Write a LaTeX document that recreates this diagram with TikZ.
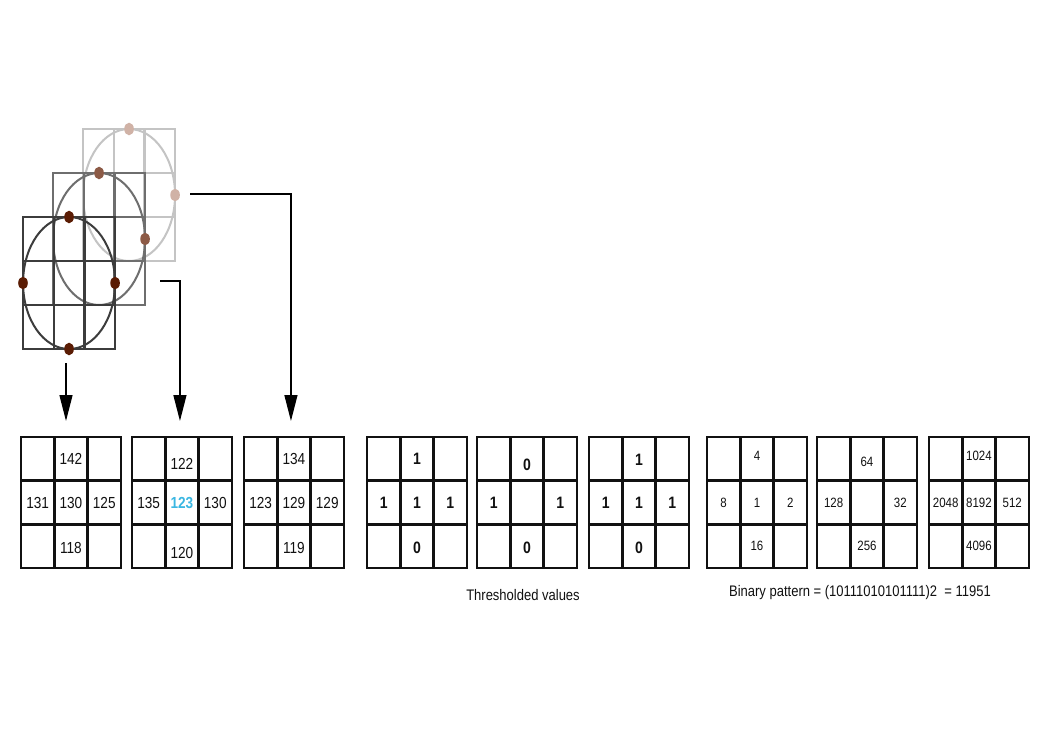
\documentclass[tikz,border=0pt]{standalone}
\usepackage{fontspec}
\setmainfont{Liberation Sans}[FakeStretch=0.85]
\usetikzlibrary{arrows.meta,positioning}
\definecolor{gridInk}{HTML}{111111}
\definecolor{winDark}{HTML}{3C3C3C}
\definecolor{winMid}{HTML}{6E6E6E}
\definecolor{winLight}{HTML}{C4C4C4}
\definecolor{dotDark}{HTML}{5A1C04}
\definecolor{dotMid}{HTML}{8C5A46}
\definecolor{dotLight}{HTML}{D0B2A6}
\definecolor{centerCyan}{HTML}{3BB7E2}

\begin{document}
\begin{tikzpicture}[x=1pt,y=-1pt,text=gridInk,
  font=\fontsize{16}{18}\selectfont,
  cell/.style={draw=gridInk,line width=2.7pt,minimum width=33.3pt,minimum height=43.7pt,inner sep=0pt,outer sep=0pt},
  wincell/.style={line width=2.2pt,minimum width=30.7pt,minimum height=44pt,inner sep=0pt,outer sep=0pt},
  pixel/.style={inner sep=0pt},
  bit/.style={inner sep=0pt,font=\bfseries\fontsize{16.5}{18}\selectfont},
  weight/.style={inner sep=0pt,font=\fontsize{13.5}{15}\selectfont},
  caption/.style={inner sep=0pt,font=\fontsize{15.3}{17}\selectfont},
  flow/.style={-{Triangle[length=26pt,width=13pt]},line width=1.3pt,draw=black,shorten >=16pt}]
  \fill[white] (0,0) rectangle (1053,745);
  \useasboundingbox (0,0) rectangle (1053,745);

  % sampling windows, back to front
  \foreach \w/\x/\y/\col in {C/83/129/winLight,B/53/173/winMid,A/23/217/winDark} {
    \foreach \i in {1,2,3} \foreach \j in {1,2,3}
      \node[wincell,draw=\col] (\w-\i\j) at (\x+30.7*\j-15.35,\y+44*\i-22) {};
    \draw[\col,line width=2pt] (\w-22) ellipse [x radius=46pt,y radius=66pt];
  }
  \foreach \p/\col in {C-12.north/dotLight,C-23.east/dotLight,B-12.north/dotMid,B-23.east/dotMid,
    A-12.north/dotDark,A-21.west/dotDark,A-23.east/dotDark,A-32.south/dotDark}
    {\fill[\col] (\p) ellipse [x radius=4.8pt,y radius=6.3pt];}

  % neighbourhood values, thresholds and weights
  \foreach \g/\x/\vt/\vl/\vm/\vr/\vb/\sty/\dt/\db in {
    g1/21/142/131/130/125/118/pixel/0/2,
    g2/132/122/135/{\bfseries\color{centerCyan}123}/130/120/pixel/5/7,
    g3/244/134/123/129/129/119/pixel/0/2,
    g4/367/1/1/1/1/0/bit/0/2,
    g5/477/0/1//1/0/bit/6/2,
    g6/589/1/1/1/1/0/bit/1/2,
    g7/707/4/8/1/2/16/weight/-3/0,
    g8/817/64/128//32/256/weight/3/0,
    g9/929/1024/2048/8192/512/4096/weight/-3/0} {
    \foreach \i in {1,2,3} \foreach \j in {1,2,3}
      \node[cell] (\g-\i\j) at (\x+33.3*\j-16.65,437+43.7*\i-21.85) {};
    \node[\sty,yshift=-\dt pt] (\g-top) at (\g-12) {\vt};
    \node[\sty] (\g-left) at (\g-21) {\vl};
    \node[\sty] (\g-mid) at (\g-22) {\vm};
    \node[\sty] (\g-right) at (\g-23) {\vr};
    \node[\sty,yshift=-\db pt] (\g-bottom) at (\g-32) {\vb};
  }

  \coordinate (srcA) at (66,363);
  \coordinate (srcB) at (160,281);
  \coordinate (srcC) at (190,194);
  \draw[flow] (srcA) -- (srcA |- g1-12.north);
  \draw[flow] (srcB) -| ([xshift=-2pt]g2-12.north);
  \draw[flow] (srcC) -| ([xshift=-3pt]g3-12.north);

  \node[caption] (threshlabel) at (523,595) {Thresholded values};
  \node[caption] (binlabel) at (860,593) {Binary pattern = (10111010101111)2~~= 11951};
\end{tikzpicture}
\end{document}
